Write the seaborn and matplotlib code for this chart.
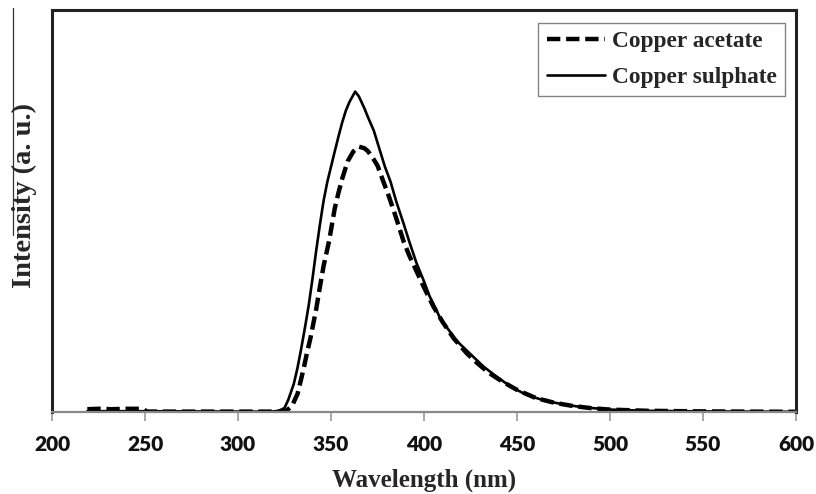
import numpy as np
import pandas as pd
import matplotlib
matplotlib.use("Agg")
import matplotlib.pyplot as plt
import seaborn as sns
from matplotlib.lines import Line2D

# ---- data ----
wl_acetate = [219, 225, 232, 240, 249, 251, 300, 322, 326, 329, 332, 335, 337, 339, 342,
              344, 346, 349, 352, 354, 356, 359, 362, 365, 368, 370, 373, 375, 378,
              381, 385, 389, 392, 396, 400, 405, 410, 416, 423, 429, 435, 442, 450,
              460, 470, 480, 490, 500, 520, 550, 600]
int_acetate = [0.7, 0.8, 0.7, 0.8, 0.8, 0.1, 0.1, 0.1, 0.3, 1.5, 4.5, 10.2, 14.5, 18.5, 25.5,
               31, 36.3, 42.6, 50.6, 54.5, 58, 62.4, 64.8, 66, 65.6, 64.8, 62.8, 61.3, 57.5,
               53.8, 48.3, 42.5, 39.0, 35, 31, 26.3, 22.4, 18.3, 14.6, 12, 9.7, 7.6, 5.5,
               3.5, 2.3, 1.5, 0.95, 0.6, 0.3, 0.15, 0.05]

wl_sulphate = [219, 250, 300, 318, 322, 325, 327, 330, 332, 334, 336, 338, 340, 342, 344,
               346, 348, 350, 352, 354, 356, 358, 360, 363, 365, 368, 370, 373, 376,
               379, 382, 385, 389, 392, 396, 400, 403, 406, 409, 412, 418, 425, 432,
               439, 447, 455, 465, 475, 485, 500, 520, 550, 600]
int_sulphate = [0.2, 0.2, 0.1, 0.1, 0.3, 1.0, 3.0, 7.0, 11, 15.8, 21, 26.5, 33, 40, 46.5,
                52.5, 57.2, 61, 64.8, 68.5, 72, 75, 77.2, 79.7, 78.5, 75.5, 73.2, 70, 65.5,
                61, 57.3, 52.5, 46.9, 42.5, 37, 32.5, 28.8, 26, 23, 21.2, 17.5, 14.4, 11.3,
                8.8, 6.2, 4.3, 2.8, 1.9, 1.2, 0.6, 0.3, 0.15, 0.05]

series_names = ["Copper acetate", "Copper sulphate"]
x_ticks = [200, 250, 300, 350, 400, 450, 500, 550, 600]

sns.set_theme(style="white")
plt.rcParams['font.family'] = ['DejaVu Sans']

fig = plt.figure(figsize=(8.16, 4.94), dpi=100)
ax = fig.add_axes([52/816, (494-412)/494, (796-52)/816, (412-10)/494])

df_a = pd.DataFrame({"Wavelength": wl_acetate, "Intensity": int_acetate})
df_s = pd.DataFrame({"Wavelength": wl_sulphate, "Intensity": int_sulphate})

sns.lineplot(data=df_a, x="Wavelength", y="Intensity", ax=ax, color="black",
             linewidth=3.2, label=series_names[0], estimator=None)
ax.lines[-1].set_dashes((3, 1.3))
sns.lineplot(data=df_s, x="Wavelength", y="Intensity", ax=ax, color="black",
             linewidth=1.9, label=series_names[1], estimator=None)

ax.set_xlim(200, 600)
ax.set_ylim(0, 100)
ax.set_xticks(x_ticks)
ax.set_xticklabels([str(t) for t in x_ticks], fontfamily="Lato", fontweight="heavy",
                   fontsize=15, color="#111111")
ax.set_yticks([])
ax.tick_params(axis="x", direction="out", length=6.5, width=1.2, color="#999999",
               pad=10, bottom=True)

for side in ["left", "top", "right"]:
    ax.spines[side].set_color("#222222")
    ax.spines[side].set_linewidth(2.2)
ax.spines["bottom"].set_color("#888888")
ax.spines["bottom"].set_linewidth(1.6)

ax.set_xlabel("")
ax.set_ylabel("")
fig.text(424/816, 1 - 480/494, "Wavelength (nm)", ha="center", va="center",
         fontfamily="Liberation Serif", fontweight="bold", fontsize=18)
fig.text(24/816, 1 - 196/494, "Intensity (a. u.)", rotation=90, ha="center", va="center",
         fontfamily="Liberation Serif", fontweight="bold", fontsize=20.5)

leg = ax.legend(loc="upper right", bbox_to_anchor=(785/816, 1 - 23/494),
                bbox_transform=fig.transFigure, frameon=True, fancybox=False,
                handlelength=2.5, handletextpad=0.3, borderpad=0.35, labelspacing=0.6,
                borderaxespad=0,
                prop={"family": "Liberation Serif", "weight": "bold", "size": 16.8})
leg.get_frame().set_edgecolor("#666666")
leg.get_frame().set_linewidth(1.0)

# stray thin line at top-left of the original figure
fig.add_artist(Line2D([13/816, 13/816], [1 - 8/494, 1 - 235/494],
                      transform=fig.transFigure, color="#333333", linewidth=0.9))

fig.savefig("out.png", dpi=100)
